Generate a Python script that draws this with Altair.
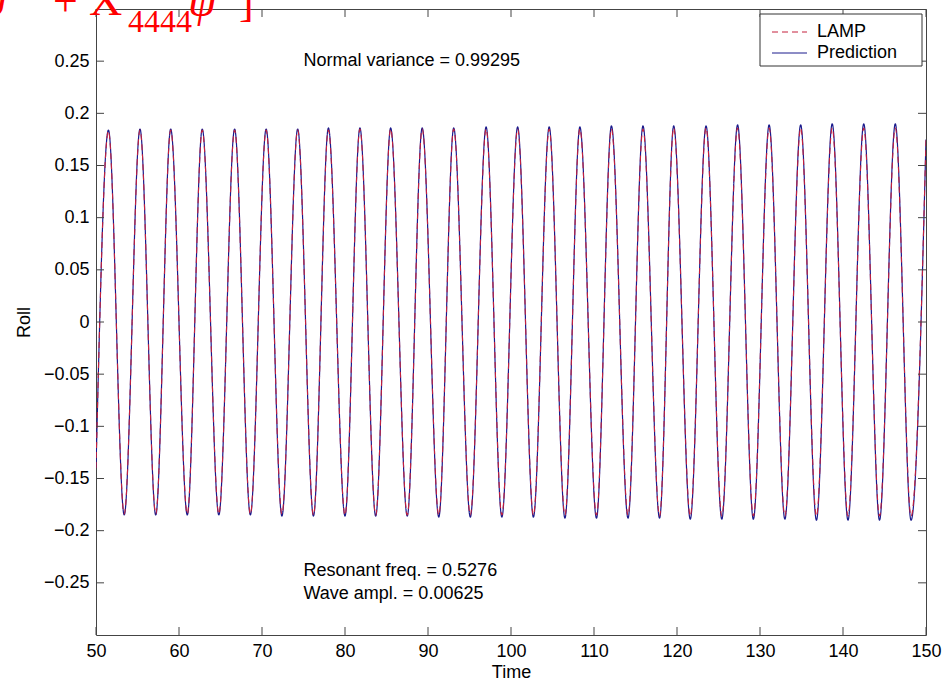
import altair as alt
import pandas as pd

# Roll response: LAMP simulation vs. model prediction, 50 s to 150 s
start_t, start_v = 50.0, -0.14
end_t, end_v = 150.0, 0.175

peak_t = [51.5, 55.3, 59.0, 62.8, 66.7, 70.5, 74.3, 78.0, 81.8, 85.5, 89.3, 93.1, 97.0,
          100.8, 104.6, 108.3, 112.1, 115.9, 119.6, 123.5, 127.3, 131.1, 134.9, 138.7, 142.5, 146.3]
trough_t = [53.4, 57.2, 61.0, 64.8, 68.6, 72.4, 76.2, 80.0, 83.7, 87.5, 91.3, 95.1, 98.9,
            102.7, 106.5, 110.3, 114.1, 117.9, 121.6, 125.4, 129.2, 133.0, 136.8, 140.6, 144.4, 148.2]

lamp_peak = [0.183, 0.184, 0.184, 0.184, 0.184, 0.184, 0.184, 0.184, 0.185, 0.185, 0.185, 0.185, 0.185,
             0.185, 0.185, 0.185, 0.185, 0.185, 0.186, 0.186, 0.186, 0.186, 0.186, 0.186, 0.186, 0.186]
lamp_trough = [-0.184, -0.184, -0.184, -0.184, -0.184, -0.184, -0.185, -0.185, -0.185, -0.185, -0.185, -0.185, -0.185,
               -0.185, -0.185, -0.185, -0.185, -0.186, -0.186, -0.186, -0.186, -0.186, -0.186, -0.186, -0.186, -0.186]
pred_peak = [0.184, 0.185, 0.185, 0.185, 0.185, 0.185, 0.185, 0.186, 0.186, 0.186, 0.186, 0.186, 0.187,
             0.187, 0.187, 0.187, 0.188, 0.188, 0.188, 0.188, 0.189, 0.189, 0.189, 0.190, 0.190, 0.190]
pred_trough = [-0.185, -0.185, -0.185, -0.185, -0.185, -0.186, -0.186, -0.186, -0.186, -0.186, -0.187, -0.187, -0.187,
               -0.187, -0.188, -0.188, -0.188, -0.188, -0.189, -0.189, -0.189, -0.189, -0.190, -0.190, -0.190, -0.190]

x_ticks = [50, 60, 70, 80, 90, 100, 110, 120, 130, 140, 150]
y_ticks = [-0.25, -0.2, -0.15, -0.1, -0.05, 0, 0.05, 0.1, 0.15, 0.2, 0.25]

notes_t = [75, 75, 75]
notes_v = [0.25, -0.239, -0.261]
notes_text = ["Normal variance = 0.99295", "Resonant freq. = 0.5276", "Wave ampl. = 0.00625"]

series_names = ["LAMP", "Prediction"]
series_colors = ["#c4203c", "#1a1a8c"]
series_dash = [[6, 4], [1, 0]]
series_width = [1.1, 1.2]


def build(name, peaks, troughs):
    rows = [(start_t, start_v)]
    rows += list(zip(peak_t, peaks)) + list(zip(trough_t, troughs))
    rows.append((end_t, end_v))
    rows.sort()
    return pd.DataFrame({"t": [r[0] for r in rows], "v": [r[1] for r in rows], "series": name})


curves = pd.concat([build("LAMP", lamp_peak, lamp_trough),
                    build("Prediction", pred_peak, pred_trough)], ignore_index=True)

W, H = 830, 626
FONT = "Liberation Sans"
FS = 18
TICK = 8

x_scale = alt.Scale(domain=[50, 150], nice=False, zero=False)
y_scale = alt.Scale(domain=[-0.3, 0.3], nice=False, zero=False)

x_axis = alt.Axis(values=x_ticks, format="d", tickSize=0, domain=False, grid=False,
                  labelFont=FONT, labelFontSize=FS, labelColor="black", labelPadding=7,
                  labelFlush=False, labelOverlap=False,
                  title="Time", titleFont=FONT, titleFontSize=FS, titleFontWeight="normal",
                  titleColor="black", titlePadding=3)
y_axis = alt.Axis(values=y_ticks, format="~g", tickSize=0, domain=False, grid=False,
                  labelFont=FONT, labelFontSize=FS, labelColor="black", labelPadding=7,
                  labelFlush=False, labelOverlap=False,
                  title="Roll", titleFont=FONT, titleFontSize=FS, titleFontWeight="normal",
                  titleColor="black", titlePadding=10)

color_enc = alt.Color("series:N", scale=alt.Scale(domain=series_names, range=series_colors), legend=None)
dash_enc = alt.StrokeDash("series:N", scale=alt.Scale(domain=series_names, range=series_dash), legend=None)


def curve_layer(name):
    i = series_names.index(name)
    return alt.Chart(curves).transform_filter(alt.datum.series == name).mark_line(
        interpolate="monotone", strokeWidth=series_width[i], clip=True
    ).encode(
        x=alt.X("t:Q", scale=x_scale, axis=x_axis),
        y=alt.Y("v:Q", scale=y_scale, axis=y_axis),
        color=color_enc,
        strokeDash=dash_enc,
    )


xt = pd.DataFrame({"t": x_ticks})
yt = pd.DataFrame({"v": y_ticks})
tick_color = "#444444"

bottom_ticks = alt.Chart(xt).mark_rule(color=tick_color, strokeWidth=1).encode(
    x=alt.X("t:Q", scale=x_scale, axis=x_axis), y=alt.value(H), y2=alt.value(H - TICK))
top_ticks = alt.Chart(xt).mark_rule(color=tick_color, strokeWidth=1).encode(
    x=alt.X("t:Q", scale=x_scale, axis=x_axis), y=alt.value(0), y2=alt.value(TICK))
left_ticks = alt.Chart(yt).mark_rule(color=tick_color, strokeWidth=1).encode(
    y=alt.Y("v:Q", scale=y_scale, axis=y_axis), x=alt.value(0), x2=alt.value(TICK))
right_ticks = alt.Chart(yt).mark_rule(color=tick_color, strokeWidth=1).encode(
    y=alt.Y("v:Q", scale=y_scale, axis=y_axis), x=alt.value(W), x2=alt.value(W - TICK))

notes = alt.Chart(pd.DataFrame({"t": notes_t, "v": notes_v, "label": notes_text})).mark_text(
    align="left", baseline="middle", font=FONT, fontSize=FS, color="black"
).encode(x=alt.X("t:Q", scale=x_scale, axis=x_axis),
         y=alt.Y("v:Q", scale=y_scale, axis=y_axis), text="label:N")

one = pd.DataFrame({"k": [0]})

# legend box in the upper-right corner
LX, LY, LW, LH = 664, 5, 162, 52
legend_box = alt.Chart(one).mark_rect(fill="white", stroke="#333333", strokeWidth=1).encode(
    x=alt.value(LX), x2=alt.value(LX + LW), y=alt.value(LY), y2=alt.value(LY + LH))
legend_parts = [legend_box]
for i, name in enumerate(series_names):
    yy = LY + 18 + 21 * i
    legend_parts.append(
        alt.Chart(one).mark_rule(color=series_colors[i], strokeWidth=1, strokeDash=series_dash[i]).encode(
            x=alt.value(LX + 12), x2=alt.value(LX + 47), y=alt.value(yy)))
    legend_parts.append(
        alt.Chart(one).mark_text(align="left", baseline="middle", font=FONT, fontSize=FS, color="black").encode(
            x=alt.value(LX + 57), y=alt.value(yy), text=alt.value(name)))

# red equation fragment along the top edge
RED = "#ff0000"
SERIF = "Liberation Serif"


def header(txt, px, py, size, italic=False):
    return alt.Chart(one).mark_text(
        align="left", baseline="alphabetic", font=SERIF, fontSize=size,
        fontStyle="italic" if italic else "normal", color=RED
    ).encode(x=alt.value(px), y=alt.value(py), text=alt.value(txt))


heads = [
    header("ψ", -118, 7, 46, True),
    header("+", -43, 7, 44),
    header("X", -7, 6, 46),
    header("4444", 32, 23, 32),
    header("ψ", 92, 7, 46, True),
    header("]", 143, 7, 44),
]

chart = alt.layer(
    curve_layer("Prediction"), curve_layer("LAMP"),
    bottom_ticks, top_ticks, left_ticks, right_ticks, notes, *legend_parts, *heads
).properties(
    width=W, height=H,
    autosize=alt.AutoSizeParams(type="none"),
    padding={"left": 96, "top": 9, "right": 25, "bottom": 46},
    background="white",
).configure_view(
    stroke="#444444", strokeWidth=1
)

chart.save("out.html", embed_options={"renderer": "svg", "actions": False})
